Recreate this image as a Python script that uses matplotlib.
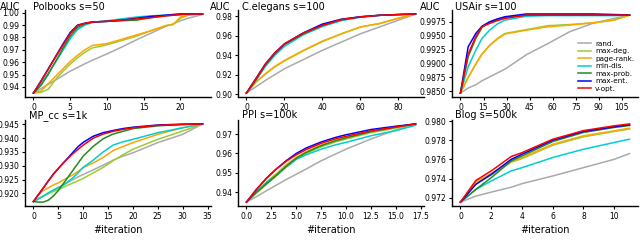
import matplotlib
matplotlib.use("Agg")
import matplotlib.pyplot as plt
from matplotlib.ticker import FormatStrFormatter, MultipleLocator

plt.rcParams['font.family'] = ['DejaVu Sans']

methods = ["rand.", "max-deg.", "page-rank.", "min-dis.", "max-prob.", "max-ent.", "v-opt."]
colors = ["#aaaaaa", "yellowgreen", "orange", "darkturquoise", "forestgreen", "blue", "red"]

# ---- Polbooks s=50
polbooks_x = [0, 1, 2, 3, 4, 5, 6, 7, 8, 10, 12, 14, 16, 18, 19, 20, 21, 23]
polbooks_rand = [.935, .9385, .942, .9455, .949, .9527, .9557, .9587, .9615, .9667, .9722, .978, .9835, .989, .991, .9935, .9955, .9985]
polbooks_maxdeg = [.935, .9355, .938, .946, .9525, .9585, .9635, .968, .9715, .974, .9775, .981, .9855, .9895, .9905, .9955, .998, .999]
polbooks_pagerank = [.935, .9365, .9425, .9485, .9545, .9605, .9655, .970, .9735, .975, .9785, .982, .9855, .9895, .9905, .9965, .998, .999]
polbooks_mindis = [.935, .9425, .951, .960, .9695, .979, .9865, .990, .992, .9935, .995, .9965, .9975, .998, .9985, .999, .999, .999]
polbooks_maxprob = [.935, .941, .950, .9605, .971, .981, .988, .991, .9925, .993, .9935, .994, .996, .9975, .998, .9985, .999, .999]
polbooks_maxent = [.935, .9445, .9545, .9645, .9745, .984, .990, .9915, .9925, .993, .994, .9955, .997, .998, .9985, .999, .999, .999]
polbooks_vopt = [.935, .9445, .954, .964, .9735, .983, .9895, .9915, .9925, .993, .994, .995, .996, .9975, .998, .9985, .999, .999]

# ---- C.elegans s=100
celegans_x = [0, 5, 10, 15, 20, 30, 40, 50, 60, 70, 80, 89]
celegans_rand = [.901, .9075, .914, .920, .926, .9355, .945, .9535, .962, .969, .976, .9824]
celegans_maxdeg = [.901, .912, .9205, .928, .934, .9445, .954, .962, .969, .9725, .978, .9824]
celegans_pagerank = [.901, .9125, .921, .9285, .9345, .945, .9545, .962, .969, .9725, .978, .9824]
celegans_mindis = [.901, .914, .9285, .940, .949, .961, .9695, .9755, .979, .981, .9818, .9824]
celegans_maxprob = [.901, .9145, .930, .9415, .951, .962, .9705, .9765, .9795, .981, .9818, .9824]
celegans_maxent = [.901, .916, .931, .9425, .9515, .963, .972, .977, .9795, .981, .9818, .9824]
celegans_vopt = [.901, .9155, .931, .9425, .9517, .9628, .9707, .9766, .9793, .981, .9817, .9824]

# ---- USAir s=100
usair_x = [0, 5, 10, 14, 19, 24, 29, 43, 57, 71, 86, 100, 110]
usair_rand = [.9847, .9856, .9862, .9869, .9876, .9883, .9890, .9916, .9936, .9957, .9972, .9981, .9987]
usair_maxdeg = [.9847, .9875, .9899, .9917, .9933, .9945, .9954, .9961, .9968, .9970, .9973, .9978, .9987]
usair_pagerank = [.9847, .9875, .9899, .9917, .9932, .9944, .9953, .9960, .9966, .9969, .9973, .9978, .9987]
usair_mindis = [.9847, .9894, .9924, .9945, .9960, .9971, .9978, .9985, .9986, .9986, .9986, .9986, .9987]
usair_maxprob = [.9847, .9912, .9945, .9965, .9974, .9979, .9983, .9987, .9987, .9987, .9987, .9987, .9987]
usair_maxent = [.9847, .9930, .9954, .9967, .9975, .9980, .9984, .9989, .9989, .9989, .9989, .9988, .9987]
usair_vopt = [.9847, .9917, .99485, .9966, .9972, .9977, .9981, .9987, .9987, .9987, .9987, .9987, .9987]

# ---- MP_cc s=1k
mpcc_x = [0, 1, 2, 3, 4, 5, 6, 7, 8, 9, 10, 12, 14, 16, 18, 20, 25, 30, 34]
mpcc_rand = [.917, .918, .919, .920, .921, .9222, .923, .924, .925, .926, .9268, .9285, .9302, .932, .9335, .9347, .9384, .9414, .9452]
mpcc_maxdeg = [.917, .918, .919, .9198, .9206, .9214, .9222, .923, .9238, .9246, .9254, .9274, .9294, .9318, .934, .936, .9396, .9426, .9452]
mpcc_pagerank = [.917, .9195, .921, .922, .923, .9238, .9248, .9258, .9268, .928, .9293, .931, .933, .9355, .937, .9384, .9414, .9438, .9452]
mpcc_mindis = [.917, .918, .919, .9202, .9212, .922, .923, .9243, .9257, .9275, .9294, .932, .935, .9375, .9387, .9396, .942, .9438, .9452]
mpcc_maxprob = [.917, .9168, .9168, .9175, .919, .921, .9235, .926, .9285, .931, .9335, .937, .9398, .9415, .9425, .9435, .9445, .945, .9452]
mpcc_maxent = [.917, .9195, .922, .9245, .927, .929, .931, .933, .935, .937, .9385, .9407, .942, .9428, .9435, .944, .9448, .9451, .9452]
mpcc_vopt = [.917, .9195, .922, .9245, .9268, .929, .931, .9328, .9345, .936, .9375, .940, .9415, .9425, .9432, .9438, .9447, .945, .9452]

# ---- PPI s=100k
ppi_x = [0, 1, 2, 3, 4, 5, 6, 7.5, 9, 10, 12.5, 15, 17]
ppi_rand = [.935, .9378, .9408, .9437, .9466, .9493, .952, .9562, .9598, .9622, .9674, .9721, .9752]
ppi_maxdeg = [.935, .9396, .944, .9485, .953, .957, .960, .9634, .966, .9674, .9707, .973, .9752]
ppi_pagerank = [.935, .9403, .9452, .9496, .9542, .9579, .9608, .9642, .9667, .968, .9713, .9735, .9752]
ppi_mindis = [.935, .9405, .945, .949, .953, .957, .9593, .9622, .9645, .9657, .9691, .9717, .9745]
ppi_maxprob = [.935, .940, .9444, .9487, .9535, .9575, .9605, .964, .9666, .968, .9712, .9735, .9752]
ppi_maxent = [.935, .9415, .9472, .952, .9563, .960, .9628, .9659, .9683, .9696, .9723, .974, .9752]
ppi_vopt = [.935, .9415, .9472, .952, .956, .9593, .962, .9652, .9676, .9688, .9716, .9736, .9752]

# ---- Blog s=500k
blog_x = [0, 1, 2, 3.3, 4, 6, 8, 10, 11]
blog_rand = [.97155, .97217, .97259, .9731, .97347, .97427, .97514, .97601, .97661]
blog_maxdeg = [.97155, .97347, .97437, .9757, .97608, .97748, .97835, .97891, .97916]
blog_pagerank = [.97155, .97368, .97451, .97577, .97619, .97758, .97846, .97898, .97926]
blog_mindis = [.97155, .97287, .97375, .9748, .97514, .97619, .97706, .97776, .97811]
blog_maxprob = [.97155, .97287, .97409, .97584, .97636, .97786, .97881, .97933, .97954]
blog_maxent = [.97155, .9734, .97444, .9760, .97654, .9780, .97891, .9794, .9796]
blog_vopt = [.97155, .9738, .9748, .9763, .9767, .9781, .979, .9795, .9797]

panels = [
    dict(name="Polbooks s=50", x=polbooks_x,
         ys=[polbooks_rand, polbooks_maxdeg, polbooks_pagerank, polbooks_mindis, polbooks_maxprob, polbooks_maxent, polbooks_vopt],
         xstep=5, ystep=0.01, yfmt='%.2f', xfmt='%d', auc=True),
    dict(name="C.elegans s=100", x=celegans_x,
         ys=[celegans_rand, celegans_maxdeg, celegans_pagerank, celegans_mindis, celegans_maxprob, celegans_maxent, celegans_vopt],
         xstep=20, ystep=0.02, yfmt='%.2f', xfmt='%d', auc=True),
    dict(name="USAir s=100", x=usair_x,
         ys=[usair_rand, usair_maxdeg, usair_pagerank, usair_mindis, usair_maxprob, usair_maxent, usair_vopt],
         xstep=15, ystep=0.0025, yfmt='%.4f', xfmt='%d', auc=True),
    dict(name="MP_cc s=1k", x=mpcc_x,
         ys=[mpcc_rand, mpcc_maxdeg, mpcc_pagerank, mpcc_mindis, mpcc_maxprob, mpcc_maxent, mpcc_vopt],
         xstep=5, ystep=0.005, yfmt='%.3f', xfmt='%d', auc=False),
    dict(name="PPI s=100k", x=ppi_x,
         ys=[ppi_rand, ppi_maxdeg, ppi_pagerank, ppi_mindis, ppi_maxprob, ppi_maxent, ppi_vopt],
         xstep=2.5, ystep=0.01, yfmt='%.2f', xfmt='%.1f', auc=False),
    dict(name="Blog s=500k", x=blog_x,
         ys=[blog_rand, blog_maxdeg, blog_pagerank, blog_mindis, blog_maxprob, blog_maxent, blog_vopt],
         xstep=2, ystep=0.002, yfmt='%.3f', xfmt='%d', auc=False),
]

W, H = 640, 248
fig = plt.figure(figsize=(6.4, 2.48), dpi=100)

col_left = [25, 238, 452]
col_w = 186
row_top = [10, 120]
row_h = [87, 86]
title_x = [[33, 242, 455], [29, 242, 455]]
title_base = [9.5, 118]
auc_x = [0, 210, 420]

for i, p in enumerate(panels):
    r, c = divmod(i, 3)
    ax = fig.add_axes([col_left[c] / W, 1 - (row_top[r] + row_h[r]) / H, col_w / W, row_h[r] / H])
    for name, col, y in zip(methods, colors, p['ys']):
        ax.plot(p['x'], y, color=col, lw=1.1, label=name)
    for s in ['top', 'right']:
        ax.spines[s].set_visible(False)
    for s in ['left', 'bottom']:
        ax.spines[s].set_linewidth(1.0)
    ax.tick_params(labelsize=5.5, length=2.5, width=0.8, pad=1.5, colors='black')
    ax.xaxis.set_major_locator(MultipleLocator(p['xstep']))
    ax.yaxis.set_major_locator(MultipleLocator(p['ystep']))
    ax.xaxis.set_major_formatter(FormatStrFormatter(p['xfmt']))
    ax.yaxis.set_major_formatter(FormatStrFormatter(p['yfmt']))
    ax.margins(x=0.05, y=0.05)
    fig.text(title_x[r][c] / W, 1 - title_base[r] / H, p['name'], fontsize=7, ha='left', va='baseline')
    if p['auc']:
        fig.text(auc_x[c] / W, 1 - title_base[r] / H, "AUC", fontsize=7, ha='left', va='baseline')
    if r == 1:
        ax.set_xlabel("#iteration", fontsize=7, labelpad=3)
    if i == 2:
        ax.legend(loc='lower right', bbox_to_anchor=(1.0, 0.02), frameon=False, fontsize=5.2,
                  labelspacing=0.2, handlelength=1.9, handletextpad=0.55, borderpad=0.2,
                  borderaxespad=0.3)

fig.savefig("out.png", dpi=100)
